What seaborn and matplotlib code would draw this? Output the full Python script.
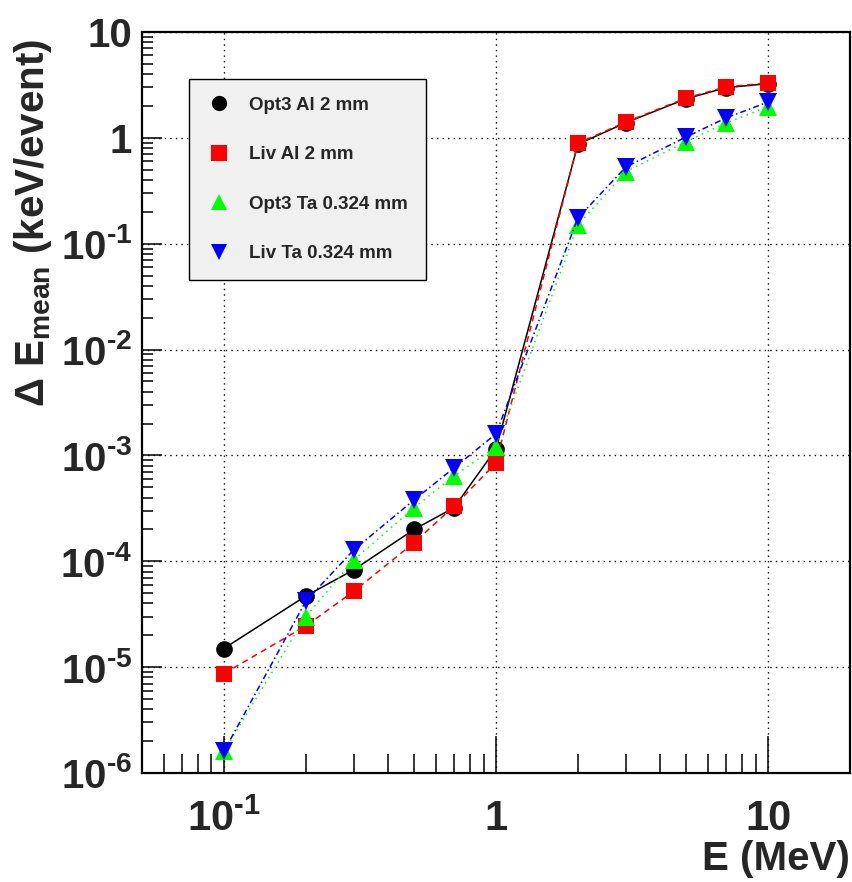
import matplotlib
matplotlib.use("Agg")
import matplotlib.pyplot as plt
import seaborn as sns
import pandas as pd
from matplotlib.lines import Line2D
from matplotlib.ticker import FixedLocator, FixedFormatter, LogLocator, NullFormatter

# Mean energy deposit per event vs. incident energy
energy = [0.1, 0.2, 0.3, 0.5, 0.7, 1, 2, 3, 5, 7, 10]
opt3_al = [1.5e-5, 4.7e-5, 8.3e-5, 2.0e-4, 3.2e-4, 1.15e-3, 0.87, 1.39, 2.34, 2.98, 3.25]
liv_al = [8.7e-6, 2.45e-5, 5.2e-5, 1.5e-4, 3.3e-4, 8.5e-4, 0.89, 1.41, 2.38, 3.03, 3.30]
opt3_ta = [1.6e-6, 3.0e-5, 1.03e-4, 3.2e-4, 6.4e-4, 1.2e-3, 0.15, 0.48, 0.92, 1.38, 1.97]
liv_ta = [1.6e-6, 4.2e-5, 1.28e-4, 3.8e-4, 7.6e-4, 1.6e-3, 0.175, 0.53, 1.02, 1.54, 2.18]

series_names = ["Opt3 Al 2 mm", "Liv Al 2 mm", "Opt3 Ta 0.324 mm", "Liv Ta 0.324 mm"]
series_values = [opt3_al, liv_al, opt3_ta, liv_ta]

x_ticks = [0.1, 1, 10]
x_tick_labels = ["10$^{\\text{-1}}$", "1", "10"]
y_ticks = [1e-6, 1e-5, 1e-4, 1e-3, 1e-2, 1e-1, 1, 10]
y_tick_labels = ["10$^{\\text{-6}}$", "10$^{\\text{-5}}$", "10$^{\\text{-4}}$",
                 "10$^{\\text{-3}}$", "10$^{\\text{-2}}$", "10$^{\\text{-1}}$",
                 "1", "10"]

sns.set_style("white")
plt.rcParams["font.family"] = ["Liberation Sans", "DejaVu Sans"]
plt.rcParams["font.weight"] = "bold"
plt.rcParams["mathtext.fontset"] = "custom"
plt.rcParams["mathtext.rm"] = "Liberation Sans:bold"
plt.rcParams["mathtext.bf"] = "Liberation Sans:bold"
plt.rcParams["mathtext.it"] = "Liberation Sans:bold"
plt.rcParams["mathtext.default"] = "rm"

df = pd.concat(
    [pd.DataFrame({"E": energy, "dE": vals, "series": name})
     for name, vals in zip(series_names, series_values)],
    ignore_index=True,
)

styles = {
    "Opt3 Al 2 mm": dict(color="black", marker="o", markersize=12, dashes=None),
    "Liv Al 2 mm": dict(color="#ff0000", marker="s", markersize=12, dashes=(4, 3)),
    "Opt3 Ta 0.324 mm": dict(color="#00ff00", marker="^", markersize=12.5, dashes=(1, 3)),
    "Liv Ta 0.324 mm": dict(color="#0000ff", marker="v", markersize=12.5, dashes=(4, 2, 1, 2)),
}

fig = plt.figure(figsize=(8.52, 8.82), dpi=100)
ax = fig.add_axes([142 / 852, 1 - 773 / 882, (850 - 142) / 852, (773 - 32) / 882])

for name in series_names:
    st = styles[name]
    sub = df[df["series"] == name]
    sns.lineplot(data=sub, x="E", y="dE", ax=ax, color=st["color"],
                 marker=st["marker"], markersize=st["markersize"],
                 markeredgewidth=0, linewidth=1.1, estimator=None, sort=False,
                 legend=False)
    line = ax.get_lines()[-1]
    if st["dashes"] is not None:
        line.set_dashes(st["dashes"])

ax.set_xscale("log")
ax.set_yscale("log")
ax.set_xlim(0.05, 20)
ax.set_ylim(1e-6, 10)

ax.xaxis.set_major_locator(FixedLocator(x_ticks))
ax.xaxis.set_major_formatter(FixedFormatter(x_tick_labels))
ax.yaxis.set_major_locator(FixedLocator(y_ticks))
ax.yaxis.set_major_formatter(FixedFormatter(y_tick_labels))
ax.xaxis.set_minor_locator(LogLocator(base=10, subs=range(2, 10), numticks=20))
ax.yaxis.set_minor_locator(LogLocator(base=10, subs=range(2, 10), numticks=20))
ax.xaxis.set_minor_formatter(NullFormatter())
ax.yaxis.set_minor_formatter(NullFormatter())

ax.grid(True, which="major", color="black", linestyle=(0, (1, 3)), linewidth=1.0)
ax.set_axisbelow(True)

ax.tick_params(axis="x", which="major", direction="in", length=27, width=1.1,
               labelsize=30, pad=19, bottom=True, top=False, color="black")
ax.tick_params(axis="x", which="minor", direction="in", length=14, width=1.1,
               bottom=True, top=False, color="black")
ax.tick_params(axis="y", which="major", direction="in", length=14.5, width=1.1,
               labelsize=29, pad=7, left=True, right=False, color="black")
ax.tick_params(axis="y", which="minor", direction="in", length=8, width=1.1,
               left=True, right=False, color="black")
for lab in ax.get_xticklabels() + ax.get_yticklabels():
    lab.set_fontweight("bold")

for sp in ax.spines.values():
    sp.set_linewidth(1.6)
    sp.set_color("black")

ax.set_xlabel("E (MeV)", fontsize=29, fontweight="bold", loc="right")
ax.xaxis.set_label_coords(1.0, -0.091)
ax.set_ylabel("Δ E$_{\\mathregular{mean}}$ (keV/event)", fontsize=29,
              fontweight="bold", loc="top")
ax.yaxis.set_label_coords(-0.124, 0.99)

handles = [
    Line2D([], [], linestyle="none", color=styles[n]["color"],
           marker=styles[n]["marker"], markersize=11, markeredgewidth=0)
    for n in series_names
]
leg = ax.legend(handles, series_names, loc="upper left",
                bbox_to_anchor=(189 / 852, 1 - 79 / 882),
                bbox_transform=fig.transFigure,
                prop={"size": 13.5, "weight": "bold"},
                frameon=True, fancybox=False, framealpha=1,
                facecolor="#f0f0f0", edgecolor="black",
                borderpad=0.95, labelspacing=1.72, handlelength=1.3,
                handletextpad=0.95, borderaxespad=0)
leg.get_frame().set_linewidth(1.0)

fig.savefig("out.png", dpi=100)
